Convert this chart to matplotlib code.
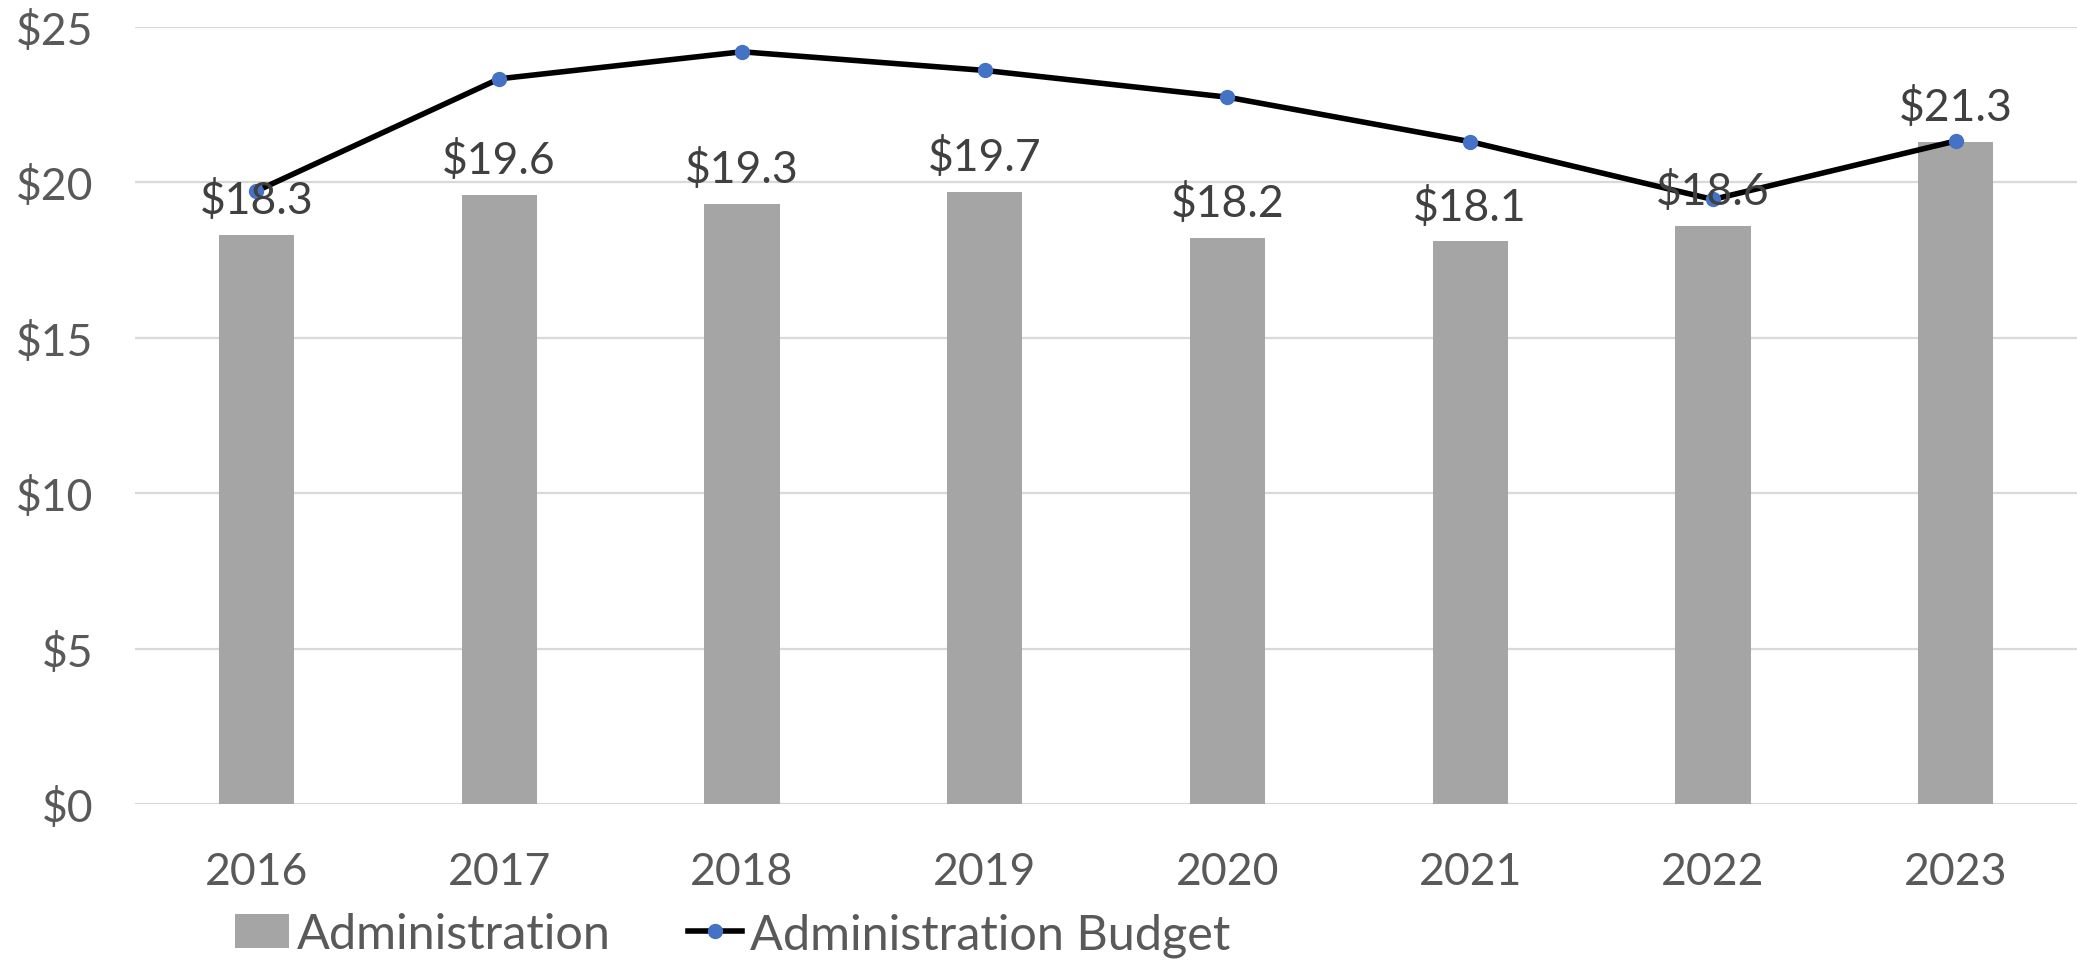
import matplotlib as mpl
from matplotlib import pyplot as plt

years = ["2016", "2017", "2018", "2019", "2020", "2021", "2022", "2023"]
admin_actual = [18.3, 19.6, 19.3, 19.7, 18.2, 18.1, 18.6, 21.3]
admin_budget = [19.72, 23.33, 24.2, 23.6, 22.74, 21.31, 19.45, 21.33]
y_ticks = [0, 5, 10, 15, 20, 25]

mpl.rcParams["font.family"] = ["Lato", "DejaVu Sans"]
FS = 32

fig = plt.figure(figsize=(20.77, 9.62), dpi=100)
ax = fig.add_axes([0.065, 0.163, 0.935, 0.808])

x = range(len(years))
bars = ax.bar(x, admin_actual, width=0.31, color="#a5a5a5", zorder=2,
              label="Administration")
(line,) = ax.plot(x, admin_budget, color="black", linewidth=4, marker="o",
                  markersize=10, markerfacecolor="#4472c4",
                  markeredgecolor="#4472c4", zorder=3,
                  label="Administration Budget")

# value labels above the bars
for xi, val in zip(x, admin_actual):
    ax.annotate(f"${val:.1f}", (xi, val), xytext=(0, 10),
                textcoords="offset points", ha="center", va="bottom",
                fontsize=FS, color="#404040", zorder=4)

ax.set_xlim(-0.5, len(years) - 0.5)
ax.set_ylim(0, 25)
ax.set_yticks(y_ticks)
ax.set_yticklabels([f"${t}" for t in y_ticks])
ax.set_xticks(list(x))
ax.set_xticklabels(years)
ax.tick_params(axis="both", length=0, labelsize=FS, labelcolor="#595959")
ax.tick_params(axis="x", pad=34)
ax.tick_params(axis="y", pad=30)
ax.grid(axis="y", color="#d9d9d9", linewidth=1.6, zorder=0)
for side in ["top", "right", "left", "bottom"]:
    ax.spines[side].set_visible(False)

fig.legend(handles=[bars, line], loc="lower left",
           bbox_to_anchor=(0.104, -0.016), ncol=2,
           frameon=False, fontsize=35, handlelength=1.1, borderaxespad=0,
           handletextpad=0.16, columnspacing=1.6, labelcolor="#595959")

plt.savefig("out.png", dpi=100)
